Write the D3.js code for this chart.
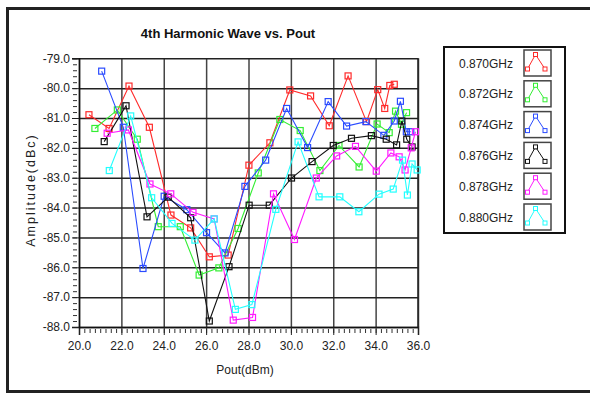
<!DOCTYPE html>
<html>
<head>
<meta charset="utf-8">
<script src="https://cdn.jsdelivr.net/npm/d3@7"></script>
<style>
  body { margin: 0; background: #fff; }
  text { font-family: "Liberation Sans", Arial, sans-serif; }
</style>
</head>
<body>
<svg id="chart"></svg>
<script>
// legend labels / colours
const freqs = ['0.870GHz', '0.872GHz', '0.874GHz', '0.876GHz', '0.878GHz', '0.880GHz'];
const colors = ['#ff2a2a', '#33ee33', '#2a4bff', '#111111', '#ff1aff', '#22ffff'];

// each curve has its own Pout points
const pout870 = [20.47, 21.42, 22.36, 23.32, 24.34, 25.27, 26.15, 27.04, 28.02, 29.01, 29.95, 30.93, 31.81, 32.70, 33.57, 34.10, 34.43, 34.67, 34.88];
const amp870  = [-80.89, -81.35, -79.93, -81.31, -84.25, -84.68, -85.65, -85.59, -82.58, -81.83, -80.06, -80.26, -81.26, -79.59, -81.12, -80.05, -80.68, -79.91, -79.87];

const pout872 = [20.75, 21.81, 22.75, 23.74, 24.78, 25.67, 26.60, 27.51, 28.46, 29.48, 30.44, 31.37, 32.27, 33.22, 34.07, 34.64, 34.94, 35.22, 35.46];
const amp872  = [-81.35, -80.73, -81.71, -84.64, -84.64, -86.26, -86.02, -84.70, -82.84, -81.05, -81.42, -82.76, -81.92, -82.64, -81.20, -81.49, -80.77, -81.21, -80.82];

const pout874 = [21.07, 22.09, 23.02, 24.02, 25.09, 26.02, 26.89, 27.83, 28.81, 29.80, 30.79, 31.76, 32.63, 33.54, 34.39, 34.88, 35.17, 35.45, 35.66];
const amp874  = [-79.43, -81.31, -86.04, -83.62, -84.07, -84.84, -85.52, -83.29, -82.41, -80.68, -81.99, -80.45, -81.27, -81.12, -81.58, -81.10, -80.44, -81.46, -81.46];

const pout876 = [21.19, 22.22, 23.21, 24.21, 25.27, 26.15, 27.08, 28.03, 28.98, 30.03, 31.00, 32.00, 32.86, 33.80, 34.50, 34.99, 35.24, 35.47, 35.72];
const amp876  = [-81.79, -80.59, -84.31, -83.65, -84.34, -87.80, -85.98, -83.92, -83.92, -83.01, -82.46, -81.92, -81.68, -81.59, -81.71, -81.90, -81.10, -81.71, -81.97];

const pout878 = [21.33, 22.33, 23.35, 24.33, 25.38, 26.38, 27.28, 28.19, 29.18, 30.17, 31.20, 32.16, 33.05, 34.03, 34.72, 35.11, 35.39, 35.68, 35.88];
const amp878  = [-81.51, -81.40, -83.21, -83.54, -84.16, -84.38, -87.77, -87.68, -83.54, -85.07, -83.01, -82.27, -81.95, -82.78, -82.17, -82.30, -82.74, -82.00, -81.46];

const pout880 = [21.43, 22.44, 23.43, 24.39, 25.47, 26.38, 27.38, 28.16, 29.29, 30.34, 31.33, 32.31, 33.21, 34.16, 34.83, 35.27, 35.50, 35.72, 35.96];
const amp880  = [-82.76, -80.93, -83.67, -84.53, -85.09, -84.38, -87.41, -87.25, -84.06, -81.80, -83.64, -83.64, -84.14, -83.55, -83.38, -82.41, -83.58, -82.54, -82.74];

const xTicks = [20, 22, 24, 26, 28, 30, 32, 34, 36];
const yTicks = [-79, -80, -81, -82, -83, -84, -85, -86, -87, -88];

const W = 590, H = 395;
const plotL = 79, plotR = 418, plotT = 58.3, plotB = 327;

const svg = d3.select('#chart').attr('width', W).attr('height', H);

// outer frame
svg.append('path')
  .attr('d', `M${W + 5},8.5 H7.5 V391.5 H${W + 5}`)
  .attr('fill', 'none').attr('stroke', '#222').attr('stroke-width', 3);

const x = d3.scaleLinear().domain([20, 36]).range([plotL, plotR]);
const y = d3.scaleLinear().domain([-79, -88]).range([plotT, plotB]);

svg.append('text')
  .attr('x', 228).attr('y', 38)
  .attr('text-anchor', 'middle')
  .attr('font-weight', 'bold').attr('font-size', 13)
  .attr('fill', '#111')
  .text('4th Harmonic Wave vs. Pout');

// grid
svg.append('g')
  .attr('transform', `translate(0,${plotB})`)
  .call(d3.axisBottom(x).tickValues(xTicks).tickSize(-(plotB - plotT)).tickFormat(''))
  .call(g => g.select('.domain').remove())
  .selectAll('line').attr('stroke', '#444').attr('stroke-width', 1.5);

svg.append('g')
  .attr('transform', `translate(${plotL},0)`)
  .call(d3.axisLeft(y).tickValues(yTicks).tickSize(-(plotR - plotL)).tickFormat(''))
  .call(g => g.select('.domain').remove())
  .selectAll('line').attr('stroke', '#222').attr('stroke-width', 1.5);

// minor ticks
const xMinor = d3.range(20, 36.001, 0.25);
const yMinor = d3.range(-79, -88.001, -0.2);

svg.append('g')
  .attr('transform', `translate(0,${plotB + 2})`)
  .call(d3.axisBottom(x).tickValues(xMinor).tickSize(4).tickFormat(''))
  .call(g => g.select('.domain').remove())
  .selectAll('line').attr('stroke', '#333');

svg.append('g')
  .attr('transform', `translate(${plotL - 2},0)`)
  .call(d3.axisLeft(y).tickValues(yMinor).tickSize(4).tickFormat(''))
  .call(g => g.select('.domain').remove())
  .selectAll('line').attr('stroke', '#333');

// major ticks + labels
const xAxis = svg.append('g')
  .attr('transform', `translate(0,${plotB})`)
  .call(d3.axisBottom(x).tickValues(xTicks).tickSize(8).tickPadding(6).tickFormat(d => d.toFixed(1)));
xAxis.select('.domain').attr('stroke', '#111').attr('stroke-width', 1.5);
xAxis.selectAll('line').attr('stroke', '#222');
xAxis.selectAll('text').attr('font-size', 12).attr('fill', '#222')
  .attr('font-family', '"Liberation Sans", Arial, sans-serif');

const yAxis = svg.append('g')
  .attr('transform', `translate(${plotL},0)`)
  .call(d3.axisLeft(y).tickValues(yTicks).tickSize(7).tickPadding(2).tickFormat(d => d.toFixed(1)));
yAxis.select('.domain').attr('stroke', '#111').attr('stroke-width', 1.5);
yAxis.selectAll('line').attr('stroke', '#222');
yAxis.selectAll('text').attr('font-size', 12).attr('fill', '#222')
  .attr('font-family', '"Liberation Sans", Arial, sans-serif');

// plot border (right)
svg.append('line')
  .attr('x1', plotR).attr('x2', plotR).attr('y1', plotT).attr('y2', plotB)
  .attr('stroke', '#222').attr('stroke-width', 1.5);

// axis titles
svg.append('text')
  .attr('x', 245).attr('y', 374)
  .attr('text-anchor', 'middle').attr('font-size', 12).attr('fill', '#222')
  .text('Pout(dBm)');

svg.append('text')
  .attr('transform', 'translate(35,190) rotate(-90)')
  .attr('text-anchor', 'middle').attr('font-size', 12.5).attr('fill', '#222')
  .attr('letter-spacing', 2)
  .text('Amplitude(dBc)');

// series
const series = [
  { name: freqs[0], color: colors[0], xs: pout870, ys: amp870 },
  { name: freqs[1], color: colors[1], xs: pout872, ys: amp872 },
  { name: freqs[2], color: colors[2], xs: pout874, ys: amp874 },
  { name: freqs[3], color: colors[3], xs: pout876, ys: amp876 },
  { name: freqs[4], color: colors[4], xs: pout878, ys: amp878 },
  { name: freqs[5], color: colors[5], xs: pout880, ys: amp880 },
];

const line = d3.line().x(d => x(d[0])).y(d => y(d[1]));

series.forEach(s => {
  const pts = s.xs.map((v, i) => [v, s.ys[i]]);
  const g = svg.append('g');
  g.append('path')
    .attr('d', line(pts))
    .attr('fill', 'none').attr('stroke', s.color).attr('stroke-width', 1.1);
  g.selectAll('rect')
    .data(pts)
    .enter()
    .append('rect')
    .attr('x', d => x(d[0]) - 3)
    .attr('y', d => y(d[1]) - 3)
    .attr('width', 6).attr('height', 6)
    .attr('fill', 'none').attr('stroke', s.color).attr('stroke-width', 1.2);
});

// legend
const legend = svg.append('g');
legend.append('rect')
  .attr('x', 444).attr('y', 47).attr('width', 121).attr('height', 186)
  .attr('fill', '#fff').attr('stroke', '#111').attr('stroke-width', 2);

series.forEach((s, i) => {
  const cy = 63 + i * 30.8;
  legend.append('text')
    .attr('x', 486).attr('y', cy + 4.5)
    .attr('text-anchor', 'middle').attr('font-size', 12).attr('fill', '#222')
    .text(s.name);
  legend.append('rect')
    .attr('x', 524).attr('y', cy - 13).attr('width', 27).attr('height', 26)
    .attr('fill', '#fff').attr('stroke', '#444').attr('stroke-width', 1.5);
  const icon = [[527.5, cy + 6], [535.5, cy - 8.5], [545, cy + 6]];
  legend.append('path')
    .attr('d', 'M' + icon.map(p => p.join(',')).join('L'))
    .attr('fill', 'none').attr('stroke', s.color).attr('stroke-width', 1);
  legend.selectAll(null)
    .data(icon)
    .enter()
    .append('rect')
    .attr('x', d => d[0] - 2).attr('y', d => d[1] - 2)
    .attr('width', 4).attr('height', 4)
    .attr('fill', '#fff').attr('stroke', s.color).attr('stroke-width', 1);
});
</script>
</body>
</html>
